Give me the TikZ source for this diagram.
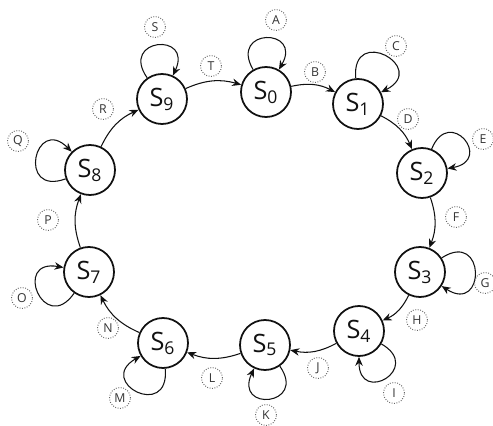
\documentclass[tikz,border=0pt]{standalone}
\usepackage{fontspec}
\setmainfont{Open Sans}
\usetikzlibrary{arrows.meta}
\definecolor{ink}{HTML}{111111}
\definecolor{dotgray}{HTML}{666666}
\definecolor{labtext}{HTML}{333333}
\tikzset{
  statebox/.style={circle, draw=ink, line width=1pt, minimum size=1cm, inner sep=0pt,
                   font=\Large, text=ink},
  tagbox/.style={circle, draw=dotgray, line width=0.55pt, dash pattern=on 0.5pt off 0.9pt,
                 minimum size=0.42cm, inner sep=0pt, font=\scriptsize, text=labtext},
  arr/.style={-{Stealth[length=1.8mm, width=1.5mm]}, line width=0.6pt, color=ink},
  ring/.style={arr, bend left=20},
  selfloop/.style={arr, looseness=4.8}}
\begin{document}
\begin{tikzpicture}
    \useasboundingbox (0,0) rectangle (9.86,-8.52);
    % the states
    \node[statebox] (s0) at (5.32,-1.84) {S\textsubscript{0}};
    \node[statebox] (s1) at (7.16,-2.08) {S\textsubscript{1}};
    \node[statebox] (s2) at (8.44,-3.46) {S\textsubscript{2}};
    \node[statebox] (s3) at (8.40,-5.44) {S\textsubscript{3}};
    \node[statebox] (s4) at (7.18,-6.62) {S\textsubscript{4}};
    \node[statebox] (s5) at (5.30,-6.90) {S\textsubscript{5}};
    \node[statebox] (s6) at (3.26,-6.86) {S\textsubscript{6}};
    \node[statebox] (s7) at (1.78,-5.44) {S\textsubscript{7}};
    \node[statebox] (s8) at (1.80,-3.40) {S\textsubscript{8}};
    \node[statebox] (s9) at (3.24,-1.98) {S\textsubscript{9}};
    % the ring
    \draw[ring] (s0) to (s1);
    \draw[ring] (s1) to (s2);
    \draw[ring] (s2) to (s3);
    \draw[ring] (s3) to (s4);
    \draw[ring] (s4) to (s5);
    \draw[ring] (s5) to (s6);
    \draw[ring] (s6) to (s7);
    \draw[ring] (s7) to (s8);
    \draw[ring] (s8) to (s9);
    \draw[ring] (s9) to (s0);
    % the self loops
    \draw[selfloop] (s0) to[out=120, in=60] (s0);
    \draw[selfloop] (s1) to[out=95, in=27] (s1);
    \draw[selfloop] (s2) to[out=68, in=10] (s2);
    \draw[selfloop] (s3) to[out=33, in=-33] (s3);
    \draw[selfloop] (s4) to[out=-30, in=-90] (s4);
    \draw[selfloop] (s5) to[out=-55, in=-115] (s5);
    \draw[selfloop] (s6) to[out=-85, in=-150] (s6);
    \draw[selfloop] (s7) to[out=-125, in=170] (s7);
    \draw[selfloop] (s8) to[out=-160, in=135] (s8);
    \draw[selfloop] (s9) to[out=125, in=65] (s9);
    % the tags
    \node[tagbox] (ta) at (5.52,-0.40) {A};
    \node[tagbox] (tb) at (6.30,-1.44) {B};
    \node[tagbox] (tc) at (7.92,-0.92) {C};
    \node[tagbox] (td) at (8.16,-2.38) {D};
    \node[tagbox] (te) at (9.66,-2.78) {E};
    \node[tagbox] (tf) at (9.12,-4.34) {F};
    \node[tagbox] (tg) at (9.70,-5.66) {G};
    \node[tagbox] (th) at (8.34,-6.40) {H};
    \node[tagbox] (ti) at (7.88,-7.86) {I};
    \node[tagbox] (tj) at (6.36,-7.36) {J};
    \node[tagbox] (tk) at (5.32,-8.30) {K};
    \node[tagbox] (tl) at (4.24,-7.56) {L};
    \node[tagbox] (tm) at (2.40,-7.96) {M};
    \node[tagbox] (tn) at (2.16,-6.56) {N};
    \node[tagbox] (to) at (0.44,-5.96) {O};
    \node[tagbox] (tp) at (0.96,-4.40) {P};
    \node[tagbox] (tq) at (0.36,-2.82) {Q};
    \node[tagbox] (tr) at (2.06,-2.18) {R};
    \node[tagbox] (ts) at (3.10,-0.54) {S};
    \node[tagbox] (tt) at (4.22,-1.32) {T};
  \end{tikzpicture}
\end{document}
